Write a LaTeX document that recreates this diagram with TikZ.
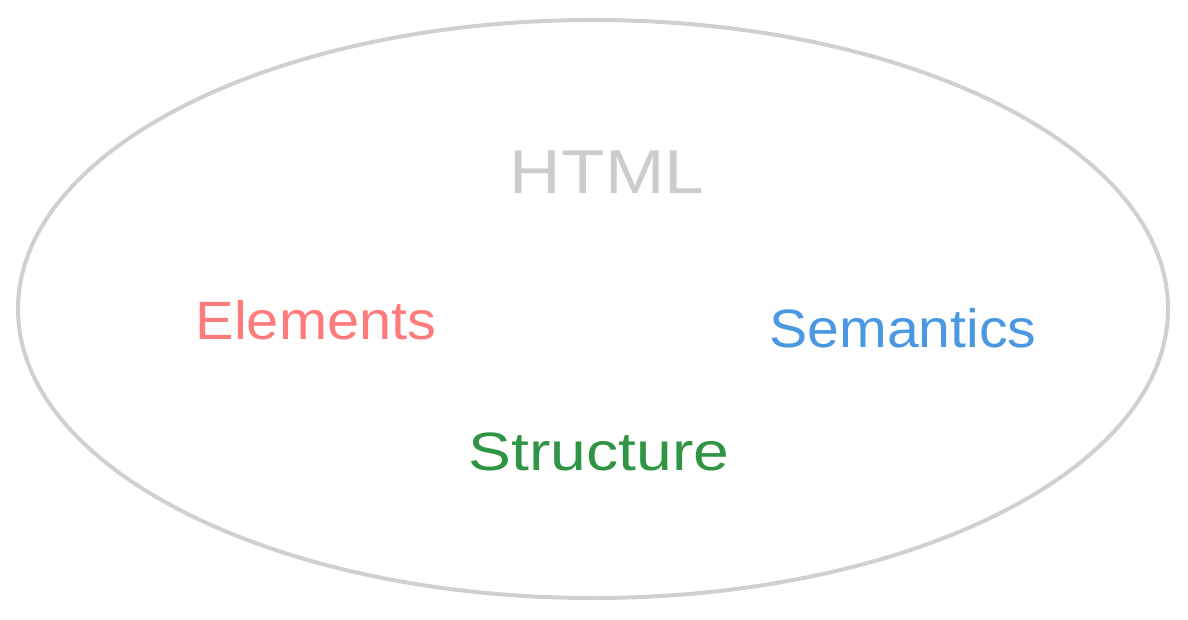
\documentclass[tikz,border=0pt]{standalone}
\usepackage{fontspec}
\setmainfont{Liberation Sans}
\definecolor{htmlgray}{HTML}{CCCCCC}
\definecolor{elred}{HTML}{FF7A7A}
\definecolor{semblue}{HTML}{4A98E2}
\definecolor{strgreen}{HTML}{2F9444}
\definecolor{edgegray}{HTML}{D0D0D0}
\tikzset{
  lbl/.style={inner sep=0pt, anchor=center},
}
\begin{document}
\begin{tikzpicture}[x=1pt,y=-1pt]
\useasboundingbox (0,0) rectangle (1188,620);
\draw[edgegray, line width=4pt] (593,309) ellipse [x radius=575, y radius=289];
\node[lbl, xscale=1.15, text=htmlgray, font=\fontsize{62}{62}\selectfont] (html) at (607,172) {HTML};
\node[lbl, xscale=1.07, text=elred, font=\fontsize{54}{54}\selectfont] (elements) at (316,320) {Elements};
\node[lbl, xscale=1.06, text=semblue, font=\fontsize{54}{54}\selectfont] (semantics) at (903,328) {Semantics};
\node[lbl, xscale=1.19, text=strgreen, font=\fontsize{54}{54}\selectfont] (structure) at (599,452) {Structure};
\end{tikzpicture}
\end{document}
